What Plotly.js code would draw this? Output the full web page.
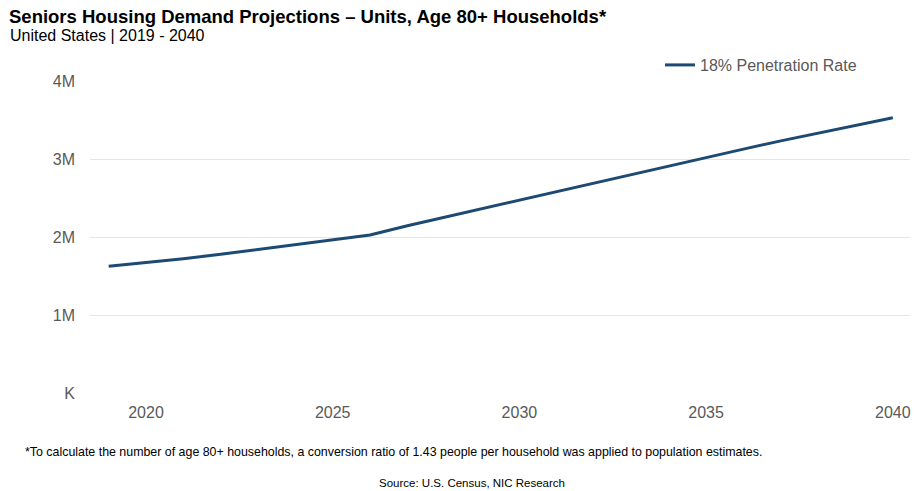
<!DOCTYPE html>
<html>
<head>
<meta charset="utf-8">
<script src="https://cdn.plot.ly/plotly-3.0.1.min.js"></script>
<style>
html,body{margin:0;padding:0;background:#fff;}
#chart{width:914px;height:491px;}
</style>
</head>
<body>
<div id="chart"></div>
<script>
// Data
const years = [2019,2020,2021,2022,2023,2024,2025,2026,2027,2028,2029,2030,2031,2032,2033,2034,2035,2036,2037,2038,2039,2040];
const units18 = [1624000,1670000,1722000,1778000,1838000,1898000,1958000,2026000,2145000,2255000,2365000,2475000,2585000,2692000,2802000,2912000,3020000,3127000,3232000,3332000,3432000,3530000];
const seriesName = "18% Penetration Rate";
const yTickVals = [0,1000000,2000000,3000000,4000000];
const yTickText = ["K","1M","2M","3M","4M"];
const xTickVals = [2020,2025,2030,2035,2040];

const titleText = "Seniors Housing Demand Projections – Units, Age 80+ Households*";
const subtitleText = "United States | 2019 - 2040";
const footnoteText = "*To calculate the number of age 80+ households, a conversion ratio of 1.43 people per household was applied to population estimates.";
const sourceText = "Source: U.S. Census, NIC Research";

const W = 914, H = 491;
const L = 90, R = 4, T = 81, B = 98;
const pw = W - L - R, ph = H - T - B;
const px = x => (x - L) / pw;
const py = y => (H - B - y) / ph;

const trace = {
  x: years, y: units18, type: 'scatter', mode: 'lines', name: seriesName,
  line: {color: '#1d4a73', width: 3}, showlegend: true
};

const layout = {
  width: W, height: H,
  margin: {l: L, r: R, t: T, b: B},
  paper_bgcolor: '#fff', plot_bgcolor: '#fff',
  font: {family: 'Liberation Sans, Arial, sans-serif', color: '#595959'},
  title: {
    text: '<b>' + titleText + '</b>',
    x: 9 / W, xref: 'container', xanchor: 'left',
    y: 1 - 17 / H, yref: 'container', yanchor: 'middle',
    font: {family: 'Liberation Sans, Arial, sans-serif', size: 18.5, color: '#000'}
  },
  xaxis: {
    range: [2018.5, 2040.46],
    tickvals: xTickVals, ticktext: xTickVals.map(String),
    showgrid: false, zeroline: false, showline: false, ticks: '',
    tickfont: {family: 'Liberation Sans Narrow, Arial Narrow, Liberation Sans, sans-serif', size: 16, color: '#595959'},
    ticklabelstandoff: 8
  },
  yaxis: {
    range: [0, 4000000],
    tickvals: yTickVals, ticktext: yTickText,
    showgrid: true, gridcolor: '#e5e5e5', gridwidth: 1,
    zeroline: false, showline: false, ticks: '',
    tickfont: {family: 'Liberation Sans, Arial, sans-serif', size: 16, color: '#595959'},
    ticklabelstandoff: 14
  },
  legend: {
    x: px(660), y: py(65), xanchor: 'left', yanchor: 'middle',
    xref: 'paper', yref: 'paper',
    orientation: 'h', itemwidth: 30,
    font: {family: 'Liberation Sans, Arial, sans-serif', size: 16, color: '#595959'},
    bgcolor: 'rgba(0,0,0,0)'
  },
  annotations: [
    {text: subtitleText, xref: 'paper', yref: 'paper', x: px(8), y: py(35),
     xanchor: 'left', yanchor: 'middle', showarrow: false,
     font: {family: 'Liberation Sans, Arial, sans-serif', size: 16, color: '#000'}},
    {text: footnoteText, xref: 'paper', yref: 'paper', x: px(23), y: py(452),
     xanchor: 'left', yanchor: 'middle', showarrow: false,
     font: {family: 'Liberation Sans Narrow, Arial Narrow, Liberation Sans, sans-serif', size: 12.4, color: '#000'}},
    {text: sourceText, xref: 'paper', yref: 'paper', x: px(472), y: py(483),
     xanchor: 'center', yanchor: 'middle', showarrow: false,
     font: {family: 'Liberation Sans Narrow, Arial Narrow, Liberation Sans, sans-serif', size: 11.5, color: '#000'}}
  ]
};

Plotly.newPlot('chart', [trace], layout, {displayModeBar: false, staticPlot: true});
</script>
</body>
</html>
